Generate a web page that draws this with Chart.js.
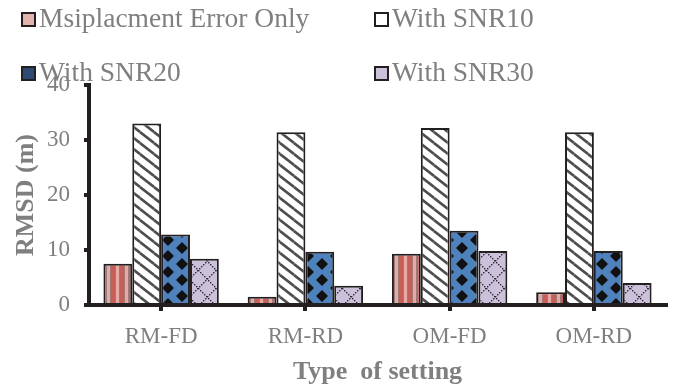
<!DOCTYPE html>
<html>
<head>
<meta charset="utf-8">
<title>RMSD by type of setting</title>
<script src="https://cdn.jsdelivr.net/npm/chart.js@4.4.1/dist/chart.umd.min.js"></script>
<style>
    html, body { margin: 0; padding: 0; background: #ffffff; }
    #wrap { width: 673px; height: 385px; }
</style>
</head>
<body>
<div id="wrap"><canvas id="myChart" width="673" height="385"></canvas></div>
<script>
// datos del gráfico
const categories = ['RM-FD', 'RM-RD', 'OM-FD', 'OM-RD'];
const seriesNames = ['Msiplacment Error Only', 'With SNR10', 'With SNR20', 'With SNR30'];
const misplacementOnly = [7.5, 1.5, 9.3, 2.3];
const withSnr10 = [33.0, 31.4, 32.2, 31.4];
const withSnr20 = [12.8, 9.7, 13.5, 9.8];
const withSnr30 = [8.4, 3.5, 9.8, 4.0];
const yTickValues = [0, 10, 20, 30, 40];

const axisColor = '#231f20';
const textColor = '#7f7f7f';
const serif = "'Liberation Serif', 'Times New Roman', serif";

const chartCanvas = document.getElementById('myChart');
const ctx = chartCanvas.getContext('2d');

// crea un patrón a partir de un pequeño canvas
function makePattern(w, h, draw) {
    const c = document.createElement('canvas');
    c.width = w;
    c.height = h;
    draw(c.getContext('2d'), w, h);
    return ctx.createPattern(c, 'repeat');
}

// rayas verticales rojas
const stripePattern = makePattern(9, 4, function (g, w, h) {
    g.fillStyle = '#e6aaa3';
    g.fillRect(0, 0, w, h);
    g.fillStyle = '#a07a78';
    g.fillRect(2, 0, 1, h);
    g.fillRect(7, 0, 1, h);
    g.fillStyle = '#c65f59';
    g.fillRect(3, 0, 4, h);
});

// diagonales sobre blanco
const diagonalPattern = makePattern(14, 11, function (g, w, h) {
    g.fillStyle = '#ffffff';
    g.fillRect(0, 0, w, h);
    g.strokeStyle = '#4d4d4d';
    g.lineWidth = 2.6;
    for (let dx = -w; dx <= w; dx += w) {
        for (let dy = -h; dy <= h; dy += h) {
            g.beginPath();
            g.moveTo(dx, dy);
            g.lineTo(dx + w, dy + h);
            g.stroke();
        }
    }
});

// rombos negros sobre azul
const diamondPattern = makePattern(28, 16, function (g, w, h) {
    g.fillStyle = '#4f81bd';
    g.fillRect(0, 0, w, h);
    g.fillStyle = '#111111';
    const centers = [[0, 0], [w, 0], [0, h], [w, h], [w / 2, h / 2]];
    centers.forEach(function (p) {
        g.beginPath();
        g.moveTo(p[0], p[1] - 6);
        g.lineTo(p[0] + 6, p[1]);
        g.lineTo(p[0], p[1] + 6);
        g.lineTo(p[0] - 6, p[1]);
        g.closePath();
        g.fill();
    });
});

// enrejado punteado sobre lila
const latticePattern = makePattern(18, 18, function (g, w, h) {
    g.fillStyle = '#ccc1da';
    g.fillRect(0, 0, w, h);
    g.fillStyle = '#2f2a33';
    for (let i = 0; i < w; i += 2) {
        g.fillRect(i, i, 1.4, 1.4);
        g.fillRect(w - 1 - i, i, 1.4, 1.4);
    }
});

const seriesValues = [misplacementOnly, withSnr10, withSnr20, withSnr30];
const seriesFills = [stripePattern, diagonalPattern, diamondPattern, latticePattern];
const legendFills = ['#e3b3ad', '#ffffff', '#2c4a73', '#ccc1da'];

// leyenda en dos columnas, dibujada arriba del gráfico
const gridLegend = {
    id: 'gridLegend',
    afterDraw: function (chart) {
        const c = chart.ctx;
        const colX = [22, 375];
        const rowY = [19, 73];
        c.save();
        c.font = '27.5px ' + serif;
        c.textBaseline = 'middle';
        c.textAlign = 'left';
        chart.data.datasets.forEach(function (ds, i) {
            const x = colX[i % 2];
            const y = rowY[Math.floor(i / 2)];
            c.fillStyle = legendFills[i];
            c.fillRect(x, y - 6, 13, 13);
            c.strokeStyle = axisColor;
            c.lineWidth = 2;
            c.strokeRect(x, y - 6, 13, 13);
            c.fillStyle = textColor;
            c.fillText(ds.label, x + 17, y + 1);
        });
        c.restore();
    }
};

const chartConfig = {
    type: 'bar',
    data: {
        labels: categories,
        datasets: seriesNames.map(function (name, i) {
            return {
                label: name,
                data: seriesValues[i],
                backgroundColor: seriesFills[i],
                borderColor: axisColor,
                borderWidth: 2,
                barPercentage: 1,
                categoryPercentage: 0.8,
            };
        }),
    },
    options: {
        responsive: false,
        animation: false,
        layout: {
            padding: { top: 85, right: 7, bottom: 0, left: 0 },
        },
        plugins: {
            legend: { display: false },
            tooltip: { enabled: false },
        },
        scales: {
            x: {
                afterFit: function (s) { s.height = 80; },
                grid: {
                    offset: false,
                    drawOnChartArea: false,
                    color: axisColor,
                    lineWidth: 4,
                    tickLength: 6,
                },
                border: { display: true, color: axisColor, width: 4 },
                ticks: {
                    color: textColor,
                    font: { family: serif, size: 23 },
                    padding: 12,
                },
                title: {
                    display: true,
                    text: 'Type  of setting',
                    color: textColor,
                    font: { family: serif, size: 26, weight: 'bold', lineHeight: 1 },
                    padding: { top: 0, bottom: 0 },
                },
            },
            y: {
                min: 0,
                max: 40,
                afterFit: function (s) { s.width = 89; },
                afterBuildTicks: function (s) {
                    s.ticks = yTickValues.map(function (v) { return { value: v }; });
                },
                grid: {
                    drawOnChartArea: false,
                    color: axisColor,
                    lineWidth: 4,
                    tickLength: 5,
                },
                border: { display: true, color: axisColor, width: 4 },
                ticks: {
                    color: textColor,
                    font: { family: serif, size: 23 },
                    padding: 14,
                },
                title: {
                    display: true,
                    text: 'RMSD (m)',
                    color: textColor,
                    font: { family: serif, size: 26, weight: 'bold' },
                    padding: { top: 11, bottom: 0 },
                },
            },
        },
    },
    plugins: [gridLegend],
};

const myChart = new Chart(chartCanvas, chartConfig);
</script>
</body>
</html>
